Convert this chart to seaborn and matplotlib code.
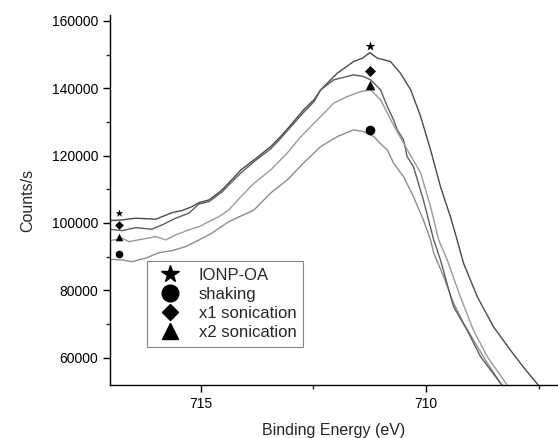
import matplotlib
matplotlib.use("Agg")
import matplotlib.pyplot as plt
from matplotlib.lines import Line2D
from matplotlib.ticker import MultipleLocator
import pandas as pd
import seaborn as sns

# Fe 2p region
oa_energy = [717.04, 716.75, 716.45, 716.00, 715.86, 715.64, 715.42, 715.20, 715.04, 714.82,
             714.67, 714.53, 714.38, 714.11, 713.82, 713.45, 713.23, 713.00, 712.72, 712.49,
             712.34, 711.97, 711.61, 711.41, 711.25, 711.08, 710.79, 710.57, 710.34, 710.12,
             709.90, 709.68, 709.46, 709.31, 709.17, 708.86, 708.50, 708.13, 707.84, 707.51, 707.30]
oa_counts = [100680, 100890, 101400, 101100, 101870, 103060, 103660, 104840, 106030, 106840,
             108320, 109810, 111890, 115750, 118720, 122680, 125650, 129130, 133580, 136560,
             139530, 144490, 147940, 148950, 150600, 148950, 147940, 144490, 139530, 131590,
             121700, 110790, 101870, 94950, 88110, 78010, 69090, 62260, 57200, 51850, 48000]

x1_energy = [717.04, 716.75, 716.45, 716.09, 715.86, 715.56, 715.27, 715.04, 714.82, 714.53,
             714.38, 714.11, 713.82, 713.45, 713.23, 713.00, 712.72, 712.49, 712.34, 712.05,
             711.61, 711.39, 711.23, 711.01, 710.86, 710.72, 710.64, 710.50, 710.42, 710.28,
             710.06, 709.83, 709.68, 709.39, 709.09, 708.79, 708.35, 708.10]
x1_counts = [98130, 97710, 98600, 98130, 99410, 101400, 102880, 105650, 106330, 109200,
             111300, 114860, 118200, 122000, 125100, 128600, 132800, 136000, 139530, 142500,
             144000, 143480, 142500, 139530, 134560, 130610, 127640, 124670, 119700, 116730,
             106840, 94950, 89000, 75120, 68200, 60260, 52450, 48000]

x2_energy = [717.04, 716.75, 716.60, 716.31, 716.00, 715.78, 715.56, 715.27, 715.04, 714.82,
             714.60, 714.38, 714.11, 713.82, 713.45, 713.08, 712.78, 712.56, 712.34, 712.05,
             711.75, 711.45, 711.23, 711.01, 710.72, 710.45, 710.12, 709.90, 709.72, 709.53,
             709.24, 708.95, 708.64, 708.20, 708.00]
x2_counts = [94650, 95450, 94440, 95150, 95930, 94950, 96430, 97920, 98900, 100390,
             101870, 103860, 107820, 111800, 115750, 120800, 125650, 128620, 131590, 135570,
             137540, 139020, 139530, 136560, 129000, 122500, 114860, 104840, 94950, 89000,
             78100, 68200, 60260, 51850, 48000]

shake_energy = [717.04, 716.75, 716.53, 716.23, 715.93, 715.64, 715.34, 715.04, 714.76, 714.38,
                713.82, 713.45, 713.08, 712.72, 712.34, 711.97, 711.61, 711.39, 711.16, 711.01,
                710.86, 710.72, 710.50, 710.28, 710.06, 709.90, 709.83, 709.61, 709.39, 709.17,
                708.86, 708.64, 708.35, 708.10]
shake_counts = [89210, 89000, 88500, 89510, 91170, 91770, 92960, 94950, 96940, 100390,
                103860, 108900, 112780, 117830, 122680, 125650, 127640, 127130, 125650, 123500,
                121700, 117700, 113760, 107820, 100890, 94950, 91080, 84040, 76220, 70280,
                63240, 58390, 52450, 48000]

# symbols sitting at the left edge and over the peak
series_names = ["IONP-OA", "shaking", "x1 sonication", "x2 sonication"]
series_markers = ["*", "o", "D", "^"]
left_marker_energy = 716.82
left_marker_counts = [102880, 90790, 99410, 95750]
peak_marker_energy = 711.25
peak_marker_counts = [152600, 127640, 145000, 141000]

sns.set_style("ticks")
plt.rcParams["font.family"] = ["Liberation Sans", "DejaVu Sans"]

fig = plt.figure(figsize=(5.58, 4.38), dpi=100)
ax = fig.add_axes([0.197, 0.121, 0.803, 0.845])

curves = [
    (oa_energy, oa_counts, "#4a4a4a"),
    (shake_energy, shake_counts, "#8c8c8c"),
    (x1_energy, x1_counts, "#5e5e5e"),
    (x2_energy, x2_counts, "#9a9a9a"),
]
for energy, counts, col in curves:
    df = pd.DataFrame({"E": energy, "c": counts})
    sns.lineplot(data=df, x="E", y="c", color=col, lw=1.0, ax=ax, sort=False)

# black symbols: small ones at the left edge, bigger ones over the peak
msizes = [45, 40, 26, 40]
for i in range(4):
    ax.scatter([left_marker_energy], [left_marker_counts[i]], marker=series_markers[i],
               s=msizes[i] * 0.75, color="black", zorder=5, linewidths=0)
    ax.scatter([peak_marker_energy], [peak_marker_counts[i]], marker=series_markers[i],
               s=msizes[i] * 1.2, color="black", zorder=5, linewidths=0)

ax.set_xlim(717.02, 707.07)
ax.set_ylim(51850, 161800)
ax.xaxis.set_major_locator(MultipleLocator(5))
ax.xaxis.set_minor_locator(MultipleLocator(2.5))
ax.yaxis.set_major_locator(MultipleLocator(20000))
ax.yaxis.set_minor_locator(MultipleLocator(10000))
ax.tick_params(which="major", direction="out", length=5, width=1, labelsize=10, colors="black")
ax.tick_params(which="minor", direction="out", length=3, width=1)

sns.despine(ax=ax)
for sp in ["left", "bottom"]:
    ax.spines[sp].set_linewidth(1.0)
    ax.spines[sp].set_color("black")

ax.set_xlabel("Binding Energy (eV)", fontsize=11.5, labelpad=9)
ax.set_ylabel("Counts/s", fontsize=11.5, labelpad=12)

handles = [Line2D([], [], ls="none", marker=m, color="black", markersize=s)
           for m, s in zip(series_markers, [13, 12, 8.5, 11])]
leg = ax.legend(handles, series_names, loc="upper left", bbox_to_anchor=(0.083, 0.335),
                frameon=True, fancybox=False, fontsize=12, handletextpad=0.7,
                borderpad=0.4, labelspacing=0.25, handlelength=2.0, borderaxespad=0)
leg.get_frame().set_edgecolor("#666666")
leg.get_frame().set_linewidth(0.8)

fig.savefig("out.png", dpi=100)
